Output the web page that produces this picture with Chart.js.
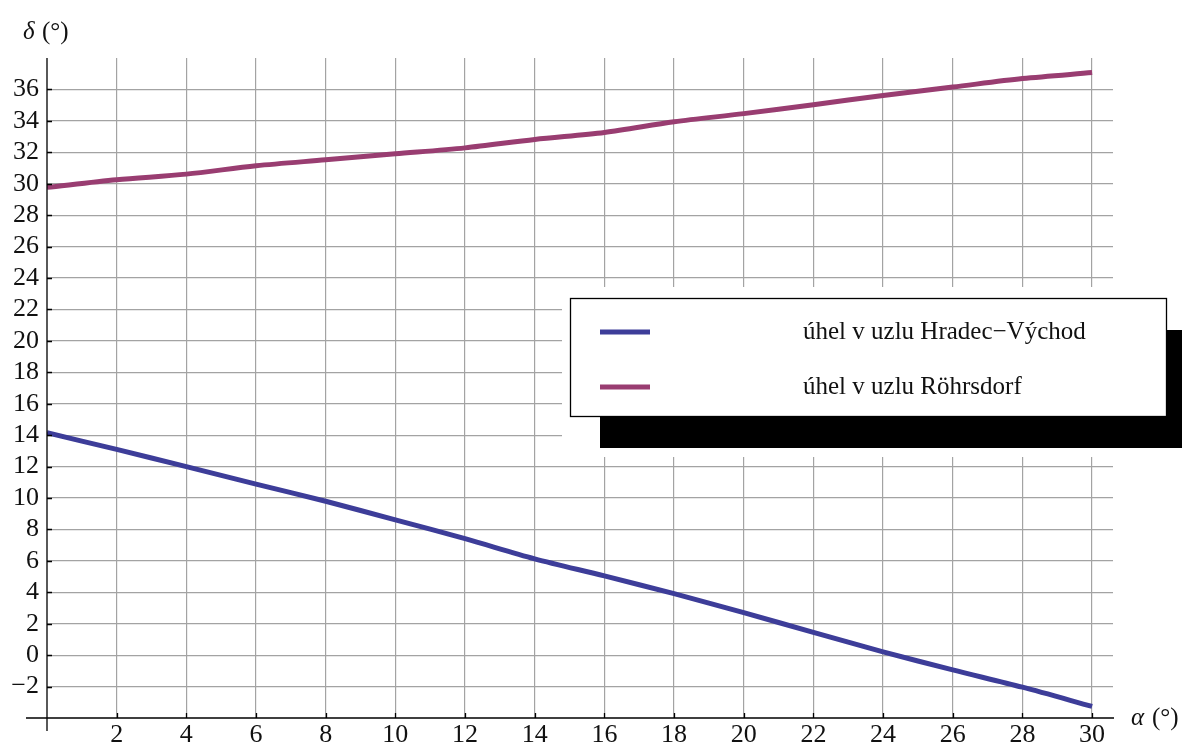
<!DOCTYPE html>
<html>
<head>
<meta charset="utf-8">
<script src="https://cdn.jsdelivr.net/npm/chart.js@4.4.1/dist/chart.umd.min.js"></script>
<style>
  html, body { margin: 0; padding: 0; background: #fff; }
  canvas { display: block; }
</style>
</head>
<body>
<canvas id="angleChart" width="1182" height="747"></canvas>
<script>
// alpha (deg) sampled every 2 degrees
const alphaValues = [0, 2, 4, 6, 8, 10, 12, 14, 16, 18, 20, 22, 24, 26, 28, 30];
// node angle at Hradec-Východ
const hradecValues = [14.15, 13.09, 12.0, 10.88, 9.79, 8.61, 7.41, 6.13, 5.04, 3.91, 2.70, 1.45, 0.21, -0.94, -2.04, -3.26];
// node angle at Röhrsdorf
const rohrsdorfValues = [29.77, 30.25, 30.61, 31.14, 31.52, 31.9, 32.28, 32.82, 33.26, 33.94, 34.46, 35.03, 35.62, 36.15, 36.69, 37.07];

const xTickValues = [2, 4, 6, 8, 10, 12, 14, 16, 18, 20, 22, 24, 26, 28, 30];
const yTickValues = [-2, 0, 2, 4, 6, 8, 10, 12, 14, 16, 18, 20, 22, 24, 26, 28, 30, 32, 34, 36];

const seriesLabels = ['úhel v uzlu Hradec\u2212Východ', 'úhel v uzlu Röhrsdorf'];
const seriesColors = ['#3d3d99', '#993d71'];

const serif = "'Liberation Serif', 'Times New Roman', serif";
const textColor = '#111';

function toPoints(ys) {
    return alphaValues.map((a, i) => ({ x: a, y: ys[i] }));
}

// axes drawn through the origin corner, tick stubs, axis titles and framed legend
const framePlugin = {
    id: 'frame',
    afterDraw(chart) {
        const ctx = chart.ctx;
        const a = chart.chartArea;
        const xs = chart.scales.x;
        const ys = chart.scales.y;
        ctx.save();

        ctx.strokeStyle = '#000';
        ctx.lineWidth = 1.3;
        ctx.beginPath();
        ctx.moveTo(a.left - 21, a.bottom);
        ctx.lineTo(a.right + 1, a.bottom);
        ctx.moveTo(a.left, a.top);
        ctx.lineTo(a.left, a.bottom + 13);
        ctx.stroke();

        ctx.beginPath();
        yTickValues.forEach(v => {
            const py = Math.round(ys.getPixelForValue(v)) + 0.5;
            ctx.moveTo(a.left, py);
            ctx.lineTo(a.left + 5, py);
        });
        xTickValues.forEach(v => {
            const px = Math.round(xs.getPixelForValue(v)) + 0.5;
            ctx.moveTo(px, a.bottom);
            ctx.lineTo(px, a.bottom - 5);
        });
        ctx.stroke();

        // axis titles
        ctx.fillStyle = textColor;
        ctx.textBaseline = 'middle';
        ctx.textAlign = 'left';
        ctx.font = 'italic 25px ' + serif;
        ctx.fillText('δ', 23, 32);
        ctx.font = '25px ' + serif;
        ctx.fillText('(°)', 42, 32);
        ctx.font = 'italic 25px ' + serif;
        ctx.fillText('α', 1131, a.bottom);
        ctx.font = '25px ' + serif;
        ctx.fillText('(°)', 1152, a.bottom);

        // legend: white margin, drop shadow, framed box
        ctx.fillStyle = '#fff';
        ctx.fillRect(562, 287, 620, 170);
        ctx.fillStyle = '#000';
        ctx.fillRect(600, 330, 582, 118);
        ctx.fillStyle = '#fff';
        ctx.fillRect(570, 298, 597, 119);
        ctx.strokeStyle = '#000';
        ctx.lineWidth = 1.3;
        ctx.strokeRect(570.5, 298.5, 596, 118);

        const rows = [332, 387];
        ctx.lineWidth = 5;
        ctx.lineCap = 'butt';
        ctx.font = '25px ' + serif;
        ctx.textBaseline = 'alphabetic';
        rows.forEach((ry, i) => {
            ctx.strokeStyle = seriesColors[i];
            ctx.beginPath();
            ctx.moveTo(600, ry);
            ctx.lineTo(650, ry);
            ctx.stroke();
            ctx.fillStyle = textColor;
            ctx.fillText(seriesLabels[i], 803, ry + 7);
        });

        ctx.restore();
    }
};

new Chart(document.getElementById('angleChart').getContext('2d'), {
    type: 'line',
    data: {
        datasets: [{
            label: seriesLabels[0],
            data: toPoints(hradecValues),
            borderColor: seriesColors[0],
            backgroundColor: seriesColors[0],
            borderWidth: 5,
            pointRadius: 0,
            tension: 0.3,
        }, {
            label: seriesLabels[1],
            data: toPoints(rohrsdorfValues),
            borderColor: seriesColors[1],
            backgroundColor: seriesColors[1],
            borderWidth: 5,
            pointRadius: 0,
            tension: 0.3,
        }]
    },
    options: {
        responsive: false,
        animation: false,
        devicePixelRatio: 1,
        layout: {
            padding: { top: 58, right: 69, left: 0, bottom: 0 }
        },
        plugins: {
            legend: { display: false },
            tooltip: { enabled: false },
        },
        scales: {
            x: {
                type: 'linear',
                min: 0,
                max: 30.6,
                afterBuildTicks: scale => {
                    scale.ticks = xTickValues.map(v => ({ value: v }));
                },
                afterFit: scale => {
                    scale.height = 29;
                },
                grid: {
                    color: '#a3a3a3',
                    lineWidth: 1.2,
                    drawTicks: false,
                },
                border: { display: false },
                ticks: {
                    padding: 2,
                    maxRotation: 0,
                    autoSkip: false,
                    color: textColor,
                    font: { family: serif, size: 26 },
                },
            },
            y: {
                type: 'linear',
                min: -4,
                max: 38,
                afterBuildTicks: scale => {
                    scale.ticks = yTickValues.map(v => ({ value: v }));
                },
                afterFit: scale => {
                    scale.width = 47;
                },
                grid: {
                    color: '#a3a3a3',
                    lineWidth: 1.2,
                    drawTicks: false,
                },
                border: { display: false },
                ticks: {
                    padding: 8,
                    autoSkip: false,
                    color: textColor,
                    font: { family: serif, size: 26 },
                    callback: v => (v < 0 ? '\u2212' + Math.abs(v) : String(v)),
                },
            }
        }
    },
    plugins: [framePlugin]
});
</script>
</body>
</html>
